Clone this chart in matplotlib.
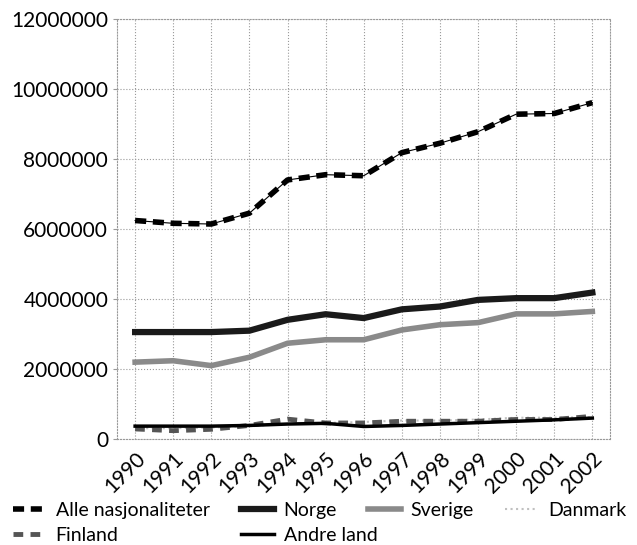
import matplotlib.pyplot as plt
import numpy as np

plt.rcParams['font.family'] = ['Lato', 'DejaVu Sans']

years = list(range(1990, 2003))

alle = [6240000, 6160000, 6140000, 6450000, 7400000, 7550000, 7520000,
        8180000, 8450000, 8780000, 9280000, 9300000, 9610000]
norge = [3050000, 3050000, 3050000, 3090000, 3400000, 3560000, 3450000,
         3700000, 3780000, 3970000, 4020000, 4020000, 4180000]
sverige = [2190000, 2230000, 2090000, 2330000, 2730000, 2830000, 2830000,
           3110000, 3260000, 3320000, 3570000, 3570000, 3640000]
danmark = [300000, 300000, 320000, 360000, 420000, 450000, 480000,
           520000, 520000, 550000, 600000, 600000, 620000]
finland = [280000, 230000, 270000, 380000, 560000, 450000, 450000,
           500000, 500000, 500000, 550000, 550000, 640000]
andre = [360000, 360000, 360000, 380000, 420000, 440000, 350000,
         380000, 420000, 460000, 500000, 540000, 590000]

fig = plt.figure(figsize=(6.37, 5.45), dpi=100)
ax = fig.add_axes([0.184, 0.195, 0.774, 0.77])

# thin line under the dashed one
ax.plot(years, alle, color='black', lw=0.8)
l_alle, = ax.plot(years, alle, color='black', lw=4, dashes=(2, 1.2),
                  label='Alle nasjonaliteter')
l_norge, = ax.plot(years, norge, color='#1a1a1a', lw=4.5, label='Norge')
l_sverige, = ax.plot(years, sverige, color='#8a8a8a', lw=4, label='Sverige')
l_danmark, = ax.plot(years, danmark, color='#c0c0c0', lw=1.5, ls=':',
                     label='Danmark')
l_finland, = ax.plot(years, finland, color='#555555', lw=3.5, dashes=(2, 1.5),
                     label='Finland')
l_andre, = ax.plot(years, andre, color='black', lw=2.5, label='Andre land')

ax.set_xlim(1989.53, 2002.47)
ax.set_ylim(0, 12000000)
ax.set_yticks(np.arange(0, 12000001, 2000000))
ax.set_yticklabels([str(v) for v in range(0, 12000001, 2000000)])
ax.set_xticks(years)
ax.set_xticklabels([str(y) for y in years], rotation=45, ha='right',
                   rotation_mode='anchor')
ax.tick_params(labelsize=15, length=3, color='#999999')
ax.tick_params(axis='x', length=0, pad=7)

ax.grid(True, color='#999999', ls=':', lw=0.8)
ax.set_axisbelow(True)
for s in ax.spines.values():
    s.set_color('#999999')
    s.set_linestyle(':')
    s.set_linewidth(0.8)

# legend: two separate rows like the original
leg_kw = dict(loc='center left', frameon=False, fontsize=14, handlelength=1.7,
              handletextpad=0.5, borderpad=0, borderaxespad=0)
row1 = [l_alle, l_norge, l_sverige, l_danmark]
fig.legend(handles=row1, labels=[h.get_label() for h in row1],
           bbox_to_anchor=(0.02, 0.064), ncol=4, columnspacing=1.6, **leg_kw)
row2 = [l_finland, l_andre]
fig.legend(handles=row2, labels=[h.get_label() for h in row2],
           bbox_to_anchor=(0.02, 0.018), ncol=2, columnspacing=6.3, **leg_kw)

fig.savefig('out.png', dpi=100)
